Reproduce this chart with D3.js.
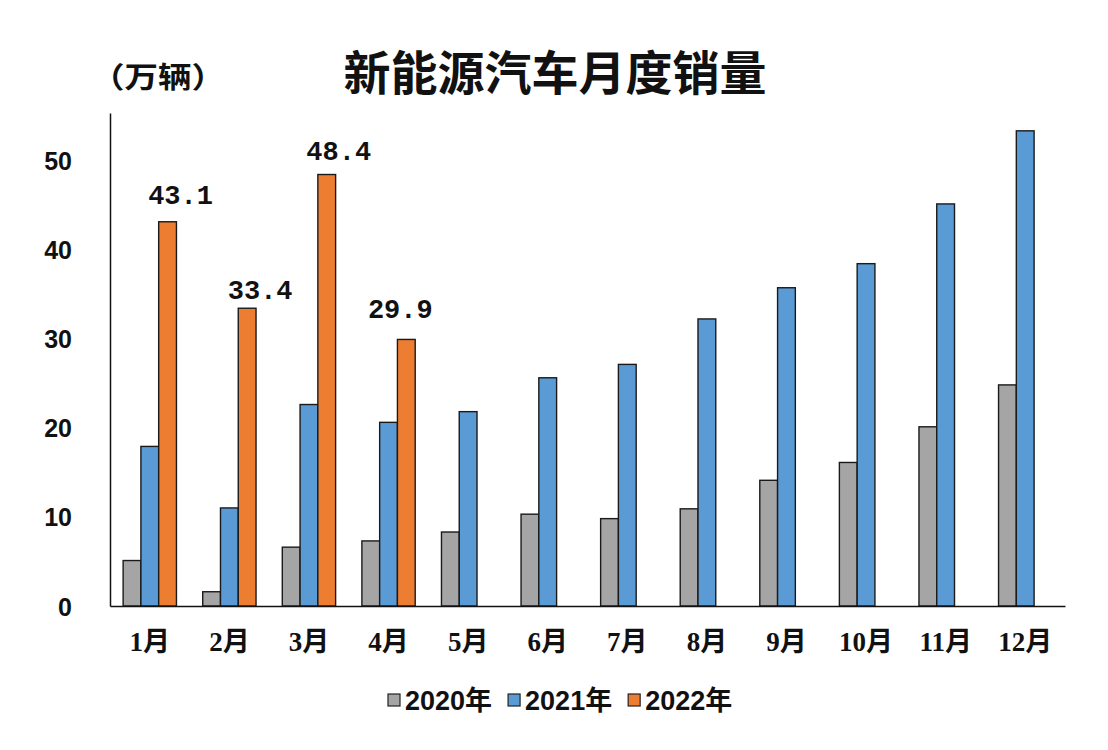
<!DOCTYPE html>
<html>
<head>
<meta charset="utf-8">
<script src="https://cdn.jsdelivr.net/npm/d3@7"></script>
<style>
  html, body { margin: 0; padding: 0; background: #ffffff; }
  svg { display: block; }
</style>
</head>
<body>
<svg id="chart" width="1108" height="750"></svg>
<script>
// ---- data ----
const months = ["1月","2月","3月","4月","5月","6月","7月","8月","9月","10月","11月","12月"];
const seriesNames = ["2020年","2021年","2022年"];
const sales2020 = [5.1, 1.6, 6.6, 7.3, 8.3, 10.3, 9.8, 10.9, 14.1, 16.1, 20.1, 24.8];
const sales2021 = [17.9, 11.0, 22.6, 20.6, 21.8, 25.6, 27.1, 32.2, 35.7, 38.4, 45.1, 53.3];
const sales2022 = [43.1, 33.4, 48.4, 29.9];
const yTicks = [0, 10, 20, 30, 40, 50];
const titleText = "新能源汽车月度销量";
const unitText = "（万辆）";

// ---- styles ----
const colors = {"2020年": "#A5A5A5", "2021年": "#5B9BD5", "2022年": "#ED7D31"};
const labelNudge = [[13, -18], [13, -9], [12, -15], [-6, -21]];

const svg = d3.select("#chart");
const m = {left: 110, right: 1065, top: 113, bottom: 606};

const values = [sales2020, sales2021, sales2022];
const rows = [];
months.forEach((mo, i) => {
  seriesNames.forEach((s, j) => {
    const v = values[j][i];
    if (v !== undefined) rows.push({month: mo, series: s, value: v, i, j});
  });
});

const x0 = d3.scaleBand().domain(months).range([m.left, m.right])
  .paddingInner(0.33).paddingOuter(0.165);
const x1 = d3.scaleBand().domain(seriesNames).range([0, x0.bandwidth()]).padding(0);
const y = d3.scaleLinear().domain([0, 55.3]).range([m.bottom, m.top]);

// bars
svg.append("g").selectAll("rect").data(rows).join("rect")
  .attr("x", d => x0(d.month) + x1(d.series))
  .attr("y", d => y(d.value))
  .attr("width", x1.bandwidth())
  .attr("height", d => y(0) - y(d.value))
  .attr("fill", d => colors[d.series])
  .attr("stroke", "#1a1a1a")
  .attr("stroke-width", 1.4);

// axes
const yAxis = d3.axisLeft(y).tickValues(yTicks).tickSize(0).tickPadding(0);
const gy = svg.append("g").attr("transform", `translate(${m.left},0)`).call(yAxis);
gy.select(".domain").attr("stroke", "#111").attr("stroke-width", 1.5);
gy.selectAll("text")
  .attr("x", -38)
  .attr("dy", "0.36em")
  .attr("font-family", "'Liberation Sans', Arial, sans-serif")
  .attr("font-weight", "bold")
  .attr("font-size", 25)
  .attr("fill", "#111");

const xAxis = d3.axisBottom(x0).tickSize(0).tickPadding(0);
const gx = svg.append("g").attr("transform", `translate(0,${m.bottom})`).call(xAxis);
gx.select(".domain").attr("stroke", "#111").attr("stroke-width", 1.5);
gx.selectAll("text")
  .attr("y", 45).attr("dy", 0)
  .attr("font-family", "'Liberation Serif', 'Noto Sans CJK SC', serif")
  .attr("font-weight", "bold")
  .attr("font-size", 27)
  .attr("fill", "#111");

// data labels for 2022
svg.append("g").selectAll("text").data(rows.filter(d => d.series === "2022年")).join("text")
  .attr("x", d => x0(d.month) + x1(d.series) + x1.bandwidth() / 2 + labelNudge[d.i][0])
  .attr("y", d => y(d.value) + labelNudge[d.i][1])
  .attr("text-anchor", "middle")
  .attr("font-family", "'Liberation Mono', 'DejaVu Sans Mono', monospace")
  .attr("font-size", 27)
  .attr("font-weight", "bold")
  .attr("fill", "#111")
  .text(d => d.value.toFixed(1));

// title
svg.append("text")
  .attr("x", 555).attr("y", 90)
  .attr("text-anchor", "middle")
  .attr("font-family", "'Noto Sans CJK SC', sans-serif")
  .attr("font-weight", "bold")
  .attr("font-size", 47)
  .attr("fill", "#111")
  .text(titleText);

// unit
svg.append("text")
  .attr("x", 91).attr("y", 88)
  .attr("font-family", "'Noto Sans CJK SC', sans-serif")
  .attr("font-weight", "bold")
  .attr("font-size", 29)
  .attr("textLength", 134)
  .attr("lengthAdjust", "spacingAndGlyphs")
  .attr("fill", "#111")
  .text(unitText);

// legend
const legend = svg.append("g").attr("transform", "translate(0,700)");
let lx = 388;
seriesNames.forEach(s => {
  const g = legend.append("g").attr("transform", `translate(${lx},0)`);
  g.append("rect").attr("x", 0).attr("y", -6).attr("width", 12).attr("height", 12)
    .attr("fill", colors[s]).attr("stroke", "#222").attr("stroke-width", 1.2);
  const t = g.append("text").attr("x", 17).attr("y", 10)
    .attr("font-family", "'Liberation Sans', 'Noto Sans CJK SC', sans-serif")
    .attr("font-weight", "bold")
    .attr("font-size", 27)
    .attr("fill", "#111")
    .text(s);
  const w = t.node().getComputedTextLength();
  lx += 17 + w + 16;
});
</script>
</body>
</html>
